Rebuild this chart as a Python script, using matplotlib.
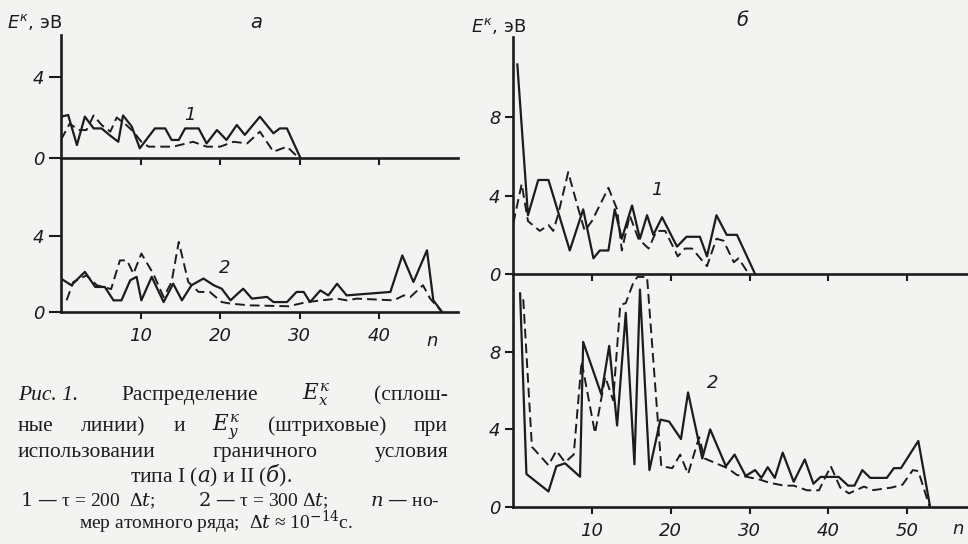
import matplotlib
matplotlib.use("Agg")
import matplotlib.pyplot as plt
from matplotlib.transforms import IdentityTransform

# ---------------- data ----------------
# Panel a, curve 1 (tau = 200 dt)
a1_solid_n = [0, 0.9, 2.0, 3.0, 4.1, 5.1, 6.2, 7.2, 7.8, 8.9, 9.9, 11.8, 13.1, 13.9, 14.8,
              15.6, 17.3, 18.3, 19.6, 20.8, 22.1, 23.1, 25.0, 26.7, 27.5, 28.4, 30.1]
a1_solid_E = [2.04, 2.12, 0.64, 2.04, 1.46, 1.46, 1.1, 0.8, 2.1, 1.55, 0.48, 1.46, 1.46, 0.89,
              0.89, 1.46, 1.46, 0.72, 1.38, 0.89, 1.63, 1.14, 2.04, 1.22, 1.46, 1.46, 0.0]
a1_dash_n = [0, 1.1, 2.2, 3.2, 4.1, 5.1, 6.2, 7.0, 8.2, 9.1, 10.1, 11.0, 14.1, 16.6, 18.3,
             20.0, 21.7, 23.4, 25.0, 26.7, 28.4, 29.9]
a1_dash_E = [0.9, 1.7, 1.38, 1.38, 2.1, 1.63, 1.3, 2.0, 1.63, 1.3, 0.8, 0.56, 0.56, 0.8, 0.56,
             0.56, 0.8, 0.72, 1.3, 0.31, 0.56, 0.0]

# Panel a, curve 2 (tau = 300 dt)
a2_solid_n = [0, 1.3, 3.0, 4.3, 5.5, 6.6, 7.6, 8.7, 9.5, 10.1, 11.4, 12.9, 14.1, 15.2, 16.4,
              17.9, 19.2, 20.2, 21.3, 22.9, 24.0, 25.9, 26.7, 28.4, 29.6, 30.5, 31.3, 32.6,
              33.6, 34.7, 35.9, 41.4, 42.9, 44.3, 46.0, 46.8, 47.9]
a2_solid_E = [1.75, 1.40, 2.10, 1.31, 1.31, 0.61, 0.61, 1.66, 1.84, 0.61, 1.84, 0.52, 1.48,
              0.61, 1.40, 1.75, 1.40, 1.22, 0.61, 1.22, 0.70, 0.79, 0.52, 0.52, 1.05, 1.05,
              0.52, 1.13, 0.87, 1.48, 0.87, 1.05, 2.96, 1.57, 3.23, 0.61, 0.0]
a2_dash_n = [0.7, 1.55, 3.2, 4.5, 6.3, 7.4, 8.3, 9.1, 10.1, 11.6, 12.9, 13.9, 14.8, 16.0, 17.3,
             18.7, 20.2, 21.3, 23.6, 28.6, 30.9, 34.7, 35.9, 37.2, 41.8, 43.1, 43.9, 45.5,
             46.4, 47.9]
a2_dash_E = [0.61, 1.57, 1.92, 1.4, 1.2, 2.7, 2.7, 2.0, 3.06, 2.0, 0.78, 1.57, 3.67, 1.57,
             1.05, 1.05, 0.52, 0.44, 0.35, 0.3, 0.52, 0.70, 0.61, 0.70, 0.61, 0.87, 0.78,
             1.4, 0.7, 0.0]

# Panel b, curve 1
b1_solid_n = [0.55, 1.9, 3.2, 4.5, 7.2, 8.9, 10.2, 11.0, 12.1, 12.9, 13.8, 15.1, 16.1, 17.0,
              17.8, 18.9, 20.8, 22.0, 23.7, 24.6, 25.8, 27.1, 28.4, 30.7]
b1_solid_E = [10.7, 3.0, 4.8, 4.8, 1.2, 3.3, 0.8, 1.2, 1.2, 3.3, 1.8, 3.5, 1.8, 3.0, 2.0,
              2.9, 1.4, 1.9, 1.9, 0.9, 3.0, 2.0, 2.0, 0.0]
b1_dash_n = [0.05, 1.1, 1.9, 3.4, 4.5, 5.1, 5.7, 7.0, 8.3, 9.1, 10.0, 12.1, 13.2, 13.8, 14.8,
             15.9, 17.2, 18.2, 19.3, 20.9, 21.8, 22.7, 24.6, 25.8, 26.7, 28.0, 28.6, 29.9]
b1_dash_E = [2.6, 4.6, 2.7, 2.2, 2.5, 2.2, 3.0, 5.2, 3.3, 2.2, 2.7, 4.4, 3.3, 1.2, 3.0, 1.8,
             1.3, 2.2, 2.2, 0.9, 1.3, 1.3, 0.4, 1.8, 1.7, 0.6, 0.8, 0.0]

# Panel b, curve 2
b2_solid_n = [0.9, 1.7, 4.5, 5.5, 6.6, 8.5, 8.9, 11.2, 12.2, 13.2, 14.3, 15.4, 16.1, 17.3,
              18.7, 19.8, 21.3, 22.2, 24.0, 25.0, 27.0, 28.1, 29.5, 30.7, 31.5, 32.3, 33.2,
              34.2, 35.6, 37.0, 38.1, 39.0, 41.3, 42.5, 43.3, 44.3, 45.3, 47.4, 48.3, 49.2,
              51.4, 52.9]
b2_solid_E = [11.0, 1.7, 0.8, 2.1, 2.25, 1.56, 8.5, 5.8, 8.3, 4.2, 10.0, 2.2, 11.2, 1.9,
              4.5, 4.4, 3.5, 5.9, 2.5, 4.0, 2.1, 2.7, 1.6, 1.9, 1.5, 2.05, 1.5, 2.8, 1.3,
              2.45, 1.2, 1.55, 1.55, 1.1, 1.1, 1.9, 1.5, 1.5, 2.0, 2.0, 3.4, 0.0]
b2_dash_n = [1.3, 2.4, 4.5, 5.5, 6.6, 7.7, 8.7, 10.4, 11.7, 12.7, 13.6, 14.3, 15.3, 15.8,
             17.0, 18.8, 20.2, 21.2, 22.2, 23.6, 24.3, 27.2, 28.4, 29.7, 31.4, 32.5, 34.4,
             35.6, 37.3, 38.8, 40.3, 41.5, 42.6, 44.5, 45.7, 48.0, 49.4, 50.7, 51.4, 52.8]
b2_dash_E = [10.7, 3.1, 2.15, 2.9, 2.3, 2.7, 7.5, 3.8, 6.7, 5.5, 10.4, 10.5, 11.6, 11.85,
             11.85, 2.1, 2.0, 2.7, 1.7, 3.6, 2.5, 2.0, 1.65, 1.55, 1.4, 1.25, 1.1, 1.1,
             0.86, 0.86, 2.1, 1.0, 0.7, 1.05, 0.87, 1.0, 1.15, 1.9, 1.85, 0.05]

a_xticks = [10, 20, 30, 40]
b_xticks = [10, 20, 30, 40, 50]
a_yticks = [0, 4]
b_yticks = [0, 4, 8]

# ---------------- figure ----------------
W, H = 968, 544
INK = "#1c1c1c"
BG = "#f3f3f1"
fig = plt.figure(figsize=(W / 100, H / 100), dpi=100)
fig.patch.set_facecolor(BG)

SANS = "DejaVu Sans"


def make_ax(l, t, r, b, xmax, ymax, yticks, xticks, xlabels, ytl):
    ax = fig.add_axes([l / W, 1 - b / H, (r - l) / W, (b - t) / H])
    ax.patch.set_alpha(0)
    ax.set_xlim(0, xmax)
    ax.set_ylim(0, ymax)
    for s in ("top", "right"):
        ax.spines[s].set_visible(False)
    for s in ("left", "bottom"):
        ax.spines[s].set_linewidth(1.9)
        ax.spines[s].set_color(INK)
    ax.set_yticks(yticks)
    ax.set_yticklabels([str(v) for v in yticks], fontstyle="italic", fontsize=13,
                       family=SANS, color=INK)
    ax.set_xticks(xticks)
    if xlabels:
        ax.set_xticklabels([str(v) for v in xticks], fontstyle="italic", fontsize=13,
                           family=SANS, color=INK)
    ax.tick_params(axis="y", direction="out", length=ytl, width=1.5, pad=3, colors=INK)
    ax.tick_params(axis="x", direction="out", length=5, width=1.5, pad=6, colors=INK,
                   labelbottom=xlabels)
    return ax


def curve(ax, n, E, dashed):
    if dashed:
        ax.plot(n, E, color=INK, lw=1.4, dashes=(5, 2.6), clip_on=True)
    else:
        ax.plot(n, E, color=INK, lw=1.6, clip_on=True)


# panel a
axa1 = make_ax(61, 35, 458, 158, 49.9, 6.07, a_yticks, a_xticks, False, 9)
axa2 = make_ax(61, 158, 458, 312, 49.9, 8.06, a_yticks, a_xticks, True, 9)
# panel b
axb1 = make_ax(513, 37, 968, 274, 57.7, 12.1, b_yticks, b_xticks, False, 6)
axb2 = make_ax(513, 274, 968, 507, 57.7, 12.0, b_yticks, b_xticks, True, 6)

curve(axa1, a1_solid_n, a1_solid_E, False)
curve(axa1, a1_dash_n, a1_dash_E, True)
curve(axa2, a2_solid_n, a2_solid_E, False)
curve(axa2, a2_dash_n, a2_dash_E, True)
curve(axb1, b1_solid_n, b1_solid_E, False)
curve(axb1, b1_dash_n, b1_dash_E, True)
curve(axb2, b2_solid_n, b2_solid_E, False)
curve(axb2, b2_dash_n, b2_dash_E, True)

IDT = IdentityTransform()


def ptext(x, y, s, **kw):
    return fig.text(x, H - y, s, transform=IDT, **kw)


# panel letters, curve numbers, axis labels
ptext(256, 22, "а", fontsize=14, fontstyle="italic", family=SANS, ha="center", va="center", color=INK)
ptext(742, 20, "б", fontsize=14, fontstyle="italic", family=SANS, ha="center", va="center", color=INK)
for (x, y, s) in [(190, 115, "1"), (225, 268, "2"), (657, 190, "1"), (713, 383, "2")]:
    ptext(x, y, s, fontsize=13, fontstyle="italic", family=SANS, ha="center", va="center", color=INK)
ptext(432, 341, "n", fontsize=13, fontstyle="italic", family=SANS, ha="center", va="center", color=INK)
ptext(958, 529, "n", fontsize=13, fontstyle="italic", family=SANS, ha="center", va="center", color=INK)
ptext(7, 28, r"$E^{к}$, эВ", fontsize=13, family=SANS, math_fontfamily="dejavusans",
      ha="left", va="baseline", color=INK)
ptext(471, 32, r"$E^{к}$, эВ", fontsize=13, family=SANS, math_fontfamily="dejavusans",
      ha="left", va="baseline", color=INK)

# ---------------- caption ----------------
SERIF = "Liberation Serif"
renderer = fig.canvas.get_renderer()


def justify(parts, x0, x1, ybase, size):
    texts = []
    for p in parts:
        if isinstance(p, tuple):
            s, kw = p
        else:
            s, kw = p, {}
        t = ptext(0, ybase, s, fontsize=size, family=SERIF, math_fontfamily="dejavuserif",
                  ha="left", va="baseline", color=INK, **kw)
        texts.append(t)
    widths = [t.get_window_extent(renderer).width for t in texts]
    gap = (x1 - x0 - sum(widths)) / (len(texts) - 1)
    x = x0
    for t, w in zip(texts, widths):
        t.set_position((x, H - ybase))
        x += w + gap


CAP = 15.5
SMALL = 14
justify([("Рис. 1.", {"fontstyle": "italic"}), "Распределение", r"$E_{x}^{к}$", "(сплош-"],
        18, 448, 400, CAP)
justify(["ные", "линии)", "и", r"$E_{y}^{к}$", "(штриховые)", "при"], 18, 448, 431, CAP)
justify(["использовании", "граничного", "условия"], 18, 448, 457, CAP)
ptext(211, 482, r"типа I ($а$) и II ($б$).", fontsize=CAP, family=SERIF,
      math_fontfamily="dejavuserif", ha="center", va="baseline", color=INK)
justify([r"$1$ — τ = 200  Δ$t$;", r"$2$ — τ = 300 Δ$t$;", r"$n$ — но-"], 20, 440, 506, SMALL)
ptext(216, 529, r"мер атомного ряда;  Δ$t$ ≈ 10$^{-14}$с.", fontsize=SMALL, family=SERIF,
      math_fontfamily="dejavuserif", ha="center", va="baseline", color=INK)

fig.savefig("out.png", dpi=100, facecolor=BG)
